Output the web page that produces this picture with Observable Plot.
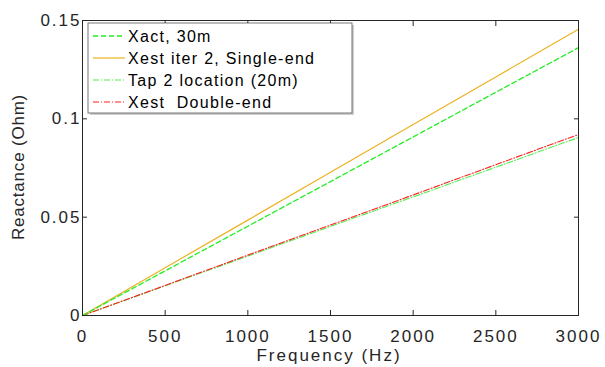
<!DOCTYPE html>
<html><head><meta charset="utf-8">
<script src="https://cdn.jsdelivr.net/npm/d3@7"></script>
<script src="https://cdn.jsdelivr.net/npm/@observablehq/plot@0.6"></script>
<style>
body{margin:0;background:#fff;font-family:"Liberation Sans",Arial,sans-serif;}
</style></head><body><div id="chart"></div>
<script>
const freq = [0, 500, 1000, 1500, 2000, 2500, 3000];
const xact30 = [0, 0.0227, 0.0454, 0.0681, 0.0908, 0.1135, 0.1362];
const xestSingle = [0, 0.0243, 0.0485, 0.0728, 0.0971, 0.1213, 0.1456];
const tap20 = [0, 0.0151, 0.0302, 0.0453, 0.0603, 0.0754, 0.0905];
const xestDouble = [0, 0.0153, 0.0307, 0.0460, 0.0613, 0.0767, 0.0920];
const seriesNames = ["Xact, 30m", "Xest iter 2, Single-end", "Tap 2 location (20m)", "Xest  Double-end"];
const xTicks = [0, 500, 1000, 1500, 2000, 2500, 3000];
const yTicks = [0, 0.05, 0.1, 0.15];

const styles = [
  {stroke:"#22ee22", dash:"5,3", width:1.3},
  {stroke:"#EDB120", dash:null, width:1.2},
  {stroke:"#55ee55", dash:"6,2,1,2", width:1.1},
  {stroke:"#ff2020", dash:"6,2,1,2", width:1.1}
];
const allSeries = [xact30, xestSingle, tap20, xestDouble];
const lines = allSeries.map((vals, i) => Plot.line(freq.map((f, j) => ({f, v: vals[j]})), {
  x:"f", y:"v", stroke: styles[i].stroke, strokeWidth: styles[i].width,
  strokeDasharray: styles[i].dash
}));
const draworder = [2, 3, 1, 0];

const axisColor = "#262626";
const plot = Plot.plot({
  width: 605, height: 367,
  marginLeft: 82, marginRight: 27, marginTop: 20, marginBottom: 52,
  style: {fontFamily: '"Liberation Sans", Arial, sans-serif', fontSize: "17px", color: axisColor, background: "#fff", letterSpacing: "2px"},
  x: {domain: [0, 3000]},
  y: {domain: [0, 0.15]},
  marks: [
    ...draworder.map(i => lines[i]),
    Plot.frame({stroke: axisColor, strokeWidth: 1}),
    Plot.axisX({ticks: xTicks, tickSize: 0, tickPadding: 8, dy: 6, tickFormat: d => String(d), label: null, fontSize: 17}),
    Plot.axisX({ticks: xTicks, tickSize: -5, tickFormat: () => "", label: null}),
    Plot.axisX({anchor: "top", ticks: xTicks, tickSize: -5, tickFormat: () => "", label: null}),
    Plot.axisY({ticks: yTicks, tickSize: -5, tickPadding: 6, tickFormat: d => d === 0 ? "0" : String(d), label: null, fontSize: 17}),
    Plot.axisY({anchor: "right", ticks: yTicks, tickSize: -5, tickFormat: () => "", label: null})
  ]
});
document.getElementById("chart").appendChild(plot);

const svg = d3.select(plot);
// Axis titles
svg.append("text").attr("x", 329).attr("y", 355).attr("dy", "0.35em")
  .attr("text-anchor", "middle").attr("font-size", 17).attr("fill", axisColor).text("Frequency (Hz)");
svg.append("text").attr("transform", "translate(18,167) rotate(-90)")
  .attr("text-anchor", "middle").attr("dy", "0.35em").attr("font-size", 17)
  .attr("letter-spacing", "0.8px").attr("fill", axisColor).text("Reactance (Ohm)");

// Legend
const lg = svg.append("g").attr("text-anchor", "start");
const lx = 88, ly = 23, lw = 264, lh = 90;
lg.append("rect").attr("x", lx + 2).attr("y", ly + 2).attr("width", lw).attr("height", lh).attr("fill", "#cfcfcf");
lg.append("rect").attr("x", lx).attr("y", ly).attr("width", lw).attr("height", lh).attr("fill", "#fff").attr("stroke", "#555").attr("stroke-width", 0.8);
seriesNames.forEach((name, i) => {
  const y = 36 + i * 22;
  lg.append("line").attr("x1", 93).attr("x2", 125).attr("y1", y).attr("y2", y)
    .attr("stroke", styles[i].stroke).attr("stroke-width", styles[i].width)
    .attr("stroke-dasharray", styles[i].dash);
  lg.append("text").attr("x", 128).attr("y", y).attr("dy", "0.36em")
    .attr("font-size", 16).attr("letter-spacing", "1.3px").attr("fill", "#000")
    .attr("font-family", '"Liberation Sans", Arial, sans-serif').text(name);
});
</script></body></html>
